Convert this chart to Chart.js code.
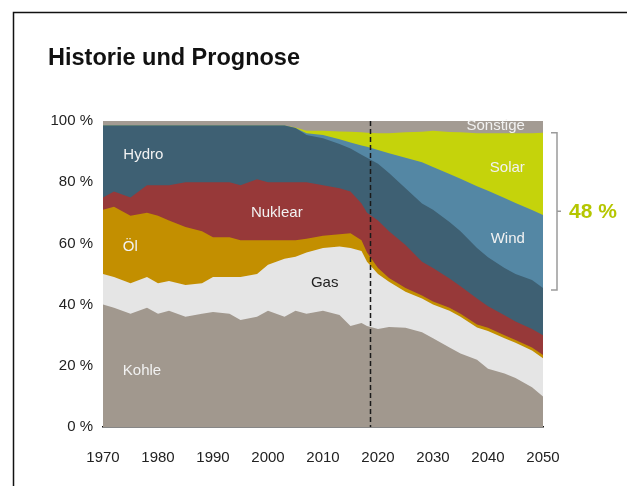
<!DOCTYPE html>
<html lang="de">
<head>
<meta charset="utf-8">
<title>Historie und Prognose</title>
<script src="https://cdn.jsdelivr.net/npm/chart.js@4.4.1/dist/chart.umd.min.js"></script>
<style>
  html, body { margin: 0; padding: 0; background: #fff; }
  #chart { display: block; }
</style>
</head>
<body>
<canvas id="chart" width="627" height="486"></canvas>
<script>
// Anteile in Prozent, gestapelt von unten (Kohle) nach oben (Sonstige)
const years = [1970, 1972, 1975, 1978, 1980, 1982, 1985, 1988, 1990, 1993, 1995, 1998, 2000, 2003, 2005, 2007, 2010, 2013, 2015, 2017, 2018, 2020, 2022, 2025, 2028, 2030, 2033, 2035, 2038, 2040, 2043, 2045, 2048, 2050]
const kohle = [40, 39, 37, 39, 37, 38, 36, 37, 37.6, 37, 35, 36, 38, 36, 38, 37, 38, 36.6, 33, 34, 33, 32, 32.7, 32.4, 31, 29, 26, 24, 22, 19, 17.5, 16, 13, 10]
const gas = [10, 10, 10, 10, 10, 9.7, 10.4, 10, 11.4, 12, 14, 14, 15, 19, 17.6, 20, 20.5, 22.4, 25.5, 23.5, 21, 18, 14.8, 11.8, 11, 11, 12, 12, 10.5, 12.4, 11.5, 11.5, 12, 12.5]
const oel = [21, 23, 22, 21, 22, 19.8, 19, 17, 13, 13, 12, 11, 8, 6, 5.4, 4.5, 4, 4, 4.8, 3.5, 3, 2, 1.2, 1.2, 1, 1, 1, 1, 1, 1, 1, 0.9, 1, 1]
const nuklear = [4, 5, 6, 9, 10, 11.5, 14.6, 16, 18, 18, 18, 20, 19, 19, 19, 18.5, 16.5, 15, 13.7, 12, 13, 15.5, 15.3, 14.1, 11, 11, 9.5, 9, 8.5, 7.1, 6.5, 6.1, 6, 6.5]
const hydro = [23.5, 21.5, 23.5, 19.5, 19.5, 19.5, 18.5, 18.5, 18.5, 18.5, 19.5, 17.5, 18.5, 18.5, 17.7, 15.4, 15.4, 14.5, 14, 16, 18, 18.5, 19, 18.5, 19, 19, 18.5, 18, 16.5, 16, 15.5, 15.5, 16, 15.4]
const wind = [0, 0, 0, 0, 0, 0, 0, 0, 0, 0, 0, 0, 0, 0, 0, 0.6, 1, 1.5, 2, 3, 3.6, 4.5, 6.5, 10, 13.5, 14, 15.7, 17.1, 20.2, 21.7, 22.8, 23.2, 22.9, 23.9]
const solar = [0, 0, 0, 0, 0, 0, 0, 0, 0, 0, 0, 0, 0, 0, 0.2, 0.8, 1.4, 2.6, 3.5, 4.3, 4.6, 5.5, 6.5, 8.3, 10, 11.8, 13.7, 15.2, 17.3, 18.8, 21.2, 22.8, 25.1, 26.9]
const sonstige = [1.5, 1.5, 1.5, 1.5, 1.5, 1.5, 1.5, 1.5, 1.5, 1.5, 1.5, 1.5, 1.5, 1.5, 2.1, 3.2, 3.2, 3.4, 3.5, 3.7, 3.8, 4, 4, 3.7, 3.5, 3.2, 3.6, 3.7, 4, 4, 4, 4, 4, 3.8]

const yearTicks = [1970, 1980, 1990, 2000, 2010, 2020, 2030, 2040, 2050]
const percentTicks = [0, 20, 40, 60, 80, 100]
const forecastYear = 2018.5
const bracketLabel = '48 %'

const series = [
  { label: 'Kohle', data: kohle, color: '#a1988e' },
  { label: 'Gas', data: gas, color: '#e5e5e5' },
  { label: 'Öl', data: oel, color: '#c38f00' },
  { label: 'Nuklear', data: nuklear, color: '#973939' },
  { label: 'Hydro', data: hydro, color: '#3e6073' },
  { label: 'Wind', data: wind, color: '#5487a4' },
  { label: 'Solar', data: solar, color: '#c5d30b' },
  { label: 'Sonstige', data: sonstige, color: '#a39b93' }
]

// label anchors in data units (year, percent)
const areaLabels = [
  { text: 'Kohle', x: 1973.6, y: 18.3, align: 'left', color: '#f2f2f2' },
  { text: 'Gas', x: 2007.8, y: 47.2, align: 'left', color: '#222' },
  { text: 'Öl', x: 1973.6, y: 58.8, align: 'left', color: '#f2f2f2' },
  { text: 'Nuklear', x: 1996.9, y: 69.9, align: 'left', color: '#f2f2f2' },
  { text: 'Hydro', x: 1973.7, y: 88.9, align: 'left', color: '#f2f2f2' },
  { text: 'Wind', x: 2046.7, y: 61.4, align: 'right', color: '#f2f2f2' },
  { text: 'Solar', x: 2046.7, y: 84.6, align: 'right', color: '#f2f2f2' },
  { text: 'Sonstige', x: 2046.7, y: 98.3, align: 'right', color: '#f2f2f2' }
]

const FONT = '"Liberation Sans", Arial, Helvetica, sans-serif'

const decorations = {
  id: 'decorations',
  beforeDraw(chart) {
    const ctx = chart.ctx
    ctx.save()
    // frame lines
    ctx.strokeStyle = '#111'
    ctx.lineWidth = 1.5
    ctx.beginPath()
    ctx.moveTo(13.5, 486)
    ctx.lineTo(13.5, 12.5)
    ctx.lineTo(627, 12.5)
    ctx.stroke()
    // title
    ctx.fillStyle = '#111'
    ctx.font = 'bold 23.5px ' + FONT
    ctx.textBaseline = 'alphabetic'
    ctx.textAlign = 'left'
    ctx.fillText('Historie und Prognose', 48, 65)
    ctx.restore()
  },
  afterDatasetsDraw(chart) {
    const ctx = chart.ctx
    const x = chart.scales.x
    const y = chart.scales.y
    const area = chart.chartArea
    ctx.save()

    ctx.font = '15px ' + FONT
    ctx.textBaseline = 'middle'
    areaLabels.forEach(l => {
      ctx.fillStyle = l.color
      ctx.textAlign = l.align
      ctx.fillText(l.text, x.getPixelForValue(l.x), y.getPixelForValue(l.y))
    })

    // forecast divider
    const fx = Math.round(x.getPixelForValue(forecastYear)) + 0.5
    ctx.strokeStyle = '#1a1a1a'
    ctx.lineWidth = 1.5
    ctx.setLineDash([5, 3])
    ctx.beginPath()
    ctx.moveTo(fx, area.top)
    ctx.lineTo(fx, area.bottom)
    ctx.stroke()
    ctx.setLineDash([])

    // bracket for wind + solar in 2050
    const last = years.length - 1
    let below = 0
    for (let i = 0; i < 5; i++) below += series[i].data[last]
    const above = below + wind[last] + solar[last]
    const top = y.getPixelForValue(above)
    const bottom = y.getPixelForValue(below) + 2
    const mid = (top + bottom) / 2
    const bx = area.right + 14
    ctx.strokeStyle = '#9b9b9b'
    ctx.lineWidth = 1.5
    ctx.beginPath()
    ctx.moveTo(bx - 6, top)
    ctx.lineTo(bx, top)
    ctx.lineTo(bx, bottom)
    ctx.lineTo(bx - 6, bottom)
    ctx.moveTo(bx, mid)
    ctx.lineTo(bx + 4, mid)
    ctx.stroke()

    ctx.fillStyle = '#b5c600'
    ctx.font = 'bold 21px ' + FONT
    ctx.textAlign = 'left'
    ctx.textBaseline = 'middle'
    ctx.fillText(bracketLabel, bx + 12, mid + 1)
    ctx.restore()
  }
}

new Chart(document.getElementById('chart'), {
  type: 'line',
  data: {
    labels: years,
    datasets: series.map(s => ({
      label: s.label,
      data: s.data.map((v, i) => ({ x: years[i], y: v })),
      backgroundColor: s.color,
      borderWidth: 0,
      pointRadius: 0,
      tension: 0,
      fill: 'origin'
    }))
  },
  options: {
    responsive: false,
    animation: false,
    layout: { padding: { left: 43, right: 84, top: 121, bottom: 19 } },
    plugins: {
      legend: { display: false },
      tooltip: { enabled: false },
      title: { display: false }
    },
    scales: {
      x: {
        type: 'linear',
        min: 1970,
        max: 2050,
        grid: { display: false, drawTicks: false },
        border: { display: true, color: '#111', width: 1.5 },
        ticks: {
          color: '#222',
          font: { family: FONT, size: 15 },
          padding: 22,
          maxRotation: 0,
          callback: v => String(v)
        },
        afterBuildTicks: s => { s.ticks = yearTicks.map(v => ({ value: v })) },
        afterFit: s => { s.height = 40 }
      },
      y: {
        stacked: true,
        min: 0,
        max: 100,
        grid: { display: false, drawTicks: false },
        border: { display: false },
        ticks: {
          color: '#222',
          font: { family: FONT, size: 15 },
          padding: 10,
          callback: v => v + ' %'
        },
        afterBuildTicks: s => { s.ticks = percentTicks.map(v => ({ value: v })) },
        afterFit: s => { s.width = 60 }
      }
    }
  },
  plugins: [decorations]
})
</script>
</body>
</html>
